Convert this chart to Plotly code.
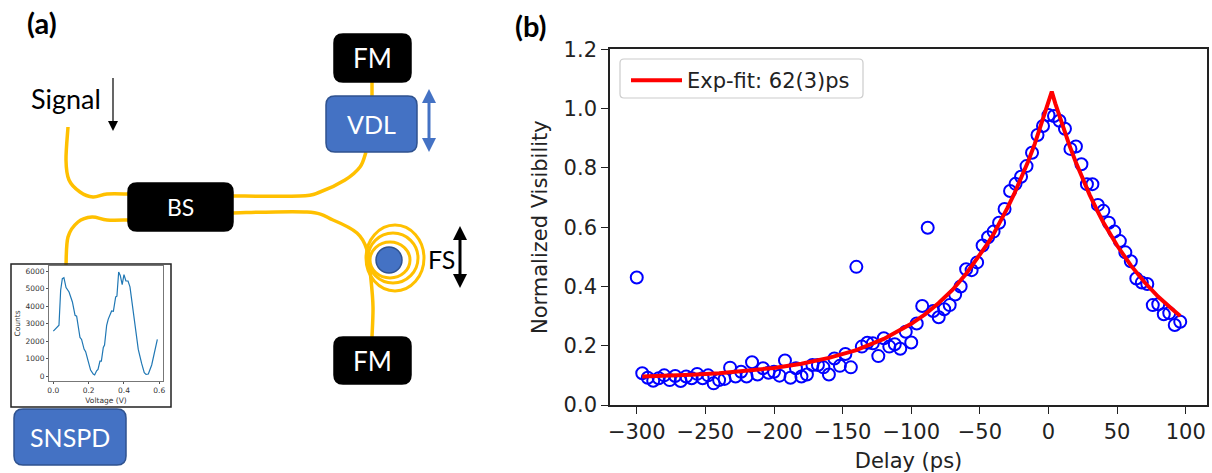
import plotly.graph_objects as go

W, H = 1212, 473

# ---------- panel (b) data ----------
delay_ps = [-300, -296, -292, -288, -284, -280, -276, -272, -268, -264, -260, -256, -252, -248, -244, -240, -236,
            -232, -228, -224, -220, -216, -212, -208, -204, -200, -196, -192, -188, -184, -180, -176, -172, -168,
            -164, -160, -156, -152, -148, -144, -140, -136, -132, -128, -124, -120, -116, -112, -108, -104, -100,
            -96, -92, -88, -84, -80, -76, -72, -68, -64, -60, -56, -52, -48, -44, -40, -36, -32, -28, -24, -20,
            -16, -12, -8, -4, 0, 4, 8, 12, 16, 20, 24, 28, 32, 36, 40, 44, 48, 52, 56, 60, 64, 68, 72, 76, 80,
            84, 88, 92, 96]
visibility = [.43, .107, .092, .082, .09, .10, .084, .098, .081, .096, .09, .105, .09, .10, .073, .084, .088,
              .126, .096, .112, .096, .144, .103, .124, .109, .112, .099, .15, .092, .124, .096, .103, .135, .135,
              .127, .103, .157, .132, .172, .127, .466, .197, .21, .208, .165, .225, .197, .205, .19, .247, .211,
              .275, .334, .598, .317, .296, .323, .337, .373, .40, .458, .455, .481, .538, .566, .585, .615, .661,
              .722, .746, .77, .806, .851, .911, .941, .978, .975, .959, .932, .864, .872, .812, .745, .745, .675,
              .655, .615, .585, .553, .515, .485, .427, .413, .408, .337, .34, .306, .31, .27, .281]
fit_x = [-296, -280, -260, -240, -220, -200, -180, -160, -140, -120, -100, -90, -80, -70, -60, -50, -45, -40, -35,
         -30, -25, -20, -15, -10, -5, 2.4, 5, 10, 15, 20, 25, 30, 35, 40, 50, 60, 70, 80, 90, 96]
fit_y = [.096, .098, .102, .107, .115, .125, .139, .159, .185, .223, .274, .306, .344, .388, .443, .504, .54, .577,
         .618, .664, .712, .763, .82, .881, .948, 1.057, 1.017, .945, .879, .818, .761, .709, .661, .616, .538, .471,
         .414, .365, .324, .30]
fit_label = "Exp-fit: 62(3)ps"
x_ticks = [-300, -250, -200, -150, -100, -50, 0, 50, 100]
y_ticks = [0.0, 0.2, 0.4, 0.6, 0.8, 1.0, 1.2]

# ---------- inset data ----------
inset_v = [0, .009, .032, .0415, .051, .06, .072, .089, .108, .123, .132, .151, .16, .174, .183, .198, .211, .226,
           .234, .245, .253, .264, .272, .283, .29, .302, .311, .33, .34, .353, .36, .37, .379, .39, .40, .411, .423,
           .434, .453, .472, .481, .5, .515, .525, .538, .557, .575, .589]
inset_counts = [2560, 2650, 2900, 4900, 5560, 5620, 5050, 4800, 4230, 3470, 3420, 2200, 2090, 1540, 1390, 820, 340,
                110, 60, 300, 380, 850, 850, 1630, 1770, 2900, 3250, 3720, 3700, 4520, 4560, 5940, 5750, 5220, 5790,
                5430, 5430, 5090, 3760, 2430, 1520, 720, 190, 95, 110, 630, 1390, 2090]

# ---------- schematic geometry (page pixels) ----------
FIBRE, BLUE, BLUE_EDGE = "#FFC000", "#4472C4", "#2F528F"
fibres = [
    [(68, 127), (66, 160), (69, 180), (80, 192), (93, 197), (107, 194), (128, 194)],
    [(128, 220), (107, 220), (92, 217), (78, 222), (68, 237), (66, 265)],
    [(230, 196), (300, 196), (320, 192), (345, 180), (360, 167), (366, 152)],
    [(230, 213), (307, 212), (333, 220), (357, 233), (367, 250), (371, 280), (373, 307), (372, 337)],
    [(372, 82), (372, 96)],
]
rings = [(395, 258, 29, 33), (393, 258, 25, 25), (390, 260, 20, 18)]
boxes = [
    (128, 183, 233, 231, "black", "black", "BS", 23),
    (334, 34, 411, 82, "black", "black", "FM", 26),
    (334, 337, 411, 384, "black", "black", "FM", 26),
    (326, 96, 417, 152, BLUE, BLUE_EDGE, "VDL", 25),
    (14, 409, 126, 465, BLUE, BLUE_EDGE, "SNSPD", 25),
]


def smooth(points):
    d = f"M{points[0][0]},{points[0][1]}"
    n = len(points)
    for i in range(n - 1):
        p0, p1 = points[max(i - 1, 0)], points[i]
        p2, p3 = points[i + 1], points[min(i + 2, n - 1)]
        c1 = (p1[0] + (p2[0] - p0[0]) / 6, p1[1] + (p2[1] - p0[1]) / 6)
        c2 = (p2[0] - (p3[0] - p1[0]) / 6, p2[1] - (p3[1] - p1[1]) / 6)
        d += f" C{c1[0]},{c1[1]} {c2[0]},{c2[1]} {p2[0]},{p2[1]}"
    return d


def rrect(x0, y0, x1, y1, r):
    return (f"M{x0+r},{y0} L{x1-r},{y0} Q{x1},{y0} {x1},{y0+r} L{x1},{y1-r} Q{x1},{y1} {x1-r},{y1} "
            f"L{x0+r},{y1} Q{x0},{y1} {x0},{y1-r} L{x0},{y0+r} Q{x0},{y0} {x0+r},{y0} Z")


PX = dict(xref="x3", yref="y3")
shapes = []
for f in fibres:
    shapes.append(dict(type="path", path=smooth(f), line=dict(color=FIBRE, width=3.5), **PX))
for cx, cy, rx, ry in rings:
    shapes.append(dict(type="circle", x0=cx - rx, x1=cx + rx, y0=cy - ry, y1=cy + ry,
                       line=dict(color=FIBRE, width=3), **PX))
shapes.append(dict(type="circle", x0=376, x1=402, y0=247, y1=273, fillcolor=BLUE,
                   line=dict(color=BLUE_EDGE, width=1.5), **PX))
annotations = []
for x0, y0, x1, y1, fill, edge, label, size in boxes:
    shapes.append(dict(type="path", path=rrect(x0, y0, x1, y1, 9), fillcolor=fill,
                       line=dict(color=edge, width=1.5), **PX))
    annotations.append(dict(x=(x0 + x1) / 2, y=(y0 + y1) / 2, text=label, showarrow=False, **PX,
                            font=dict(family="Lato", size=size, color="white")))


def double_arrow(x, y0, y1, color):
    return [
        dict(type="line", x0=x, x1=x, y0=y0 + 8, y1=y1 - 8, line=dict(color=color, width=3), **PX),
        dict(type="path", path=f"M{x},{y0} L{x+7},{y0+14} L{x-7},{y0+14} Z", fillcolor=color,
             line=dict(width=0), **PX),
        dict(type="path", path=f"M{x},{y1} L{x+7},{y1-14} L{x-7},{y1-14} Z", fillcolor=color,
             line=dict(width=0), **PX),
    ]


shapes += double_arrow(429, 89, 152, BLUE)
shapes += double_arrow(460, 226, 288, "black")
shapes += [
    dict(type="line", x0=113, x1=113, y0=78, y1=124, line=dict(color="black", width=1.2), **PX),
    dict(type="path", path="M113,131 L108,121 L118,121 Z", fillcolor="black", line=dict(width=0), **PX),
    dict(type="rect", x0=11, x1=171, y0=264, y1=407, line=dict(color="#222", width=1.5), **PX),
    dict(type="path", path=rrect(620, 59, 863, 98, 4), fillcolor="rgba(255,255,255,0.8)",
         line=dict(color="#cccccc", width=1.2), **PX),
]
annotations += [
    dict(x=42, y=22, text="<b>(a)</b>", showarrow=False, **PX, font=dict(family="Lato", size=29, color="black")),
    dict(x=531, y=25, text="<b>(b)</b>", showarrow=False, **PX, font=dict(family="Lato", size=29, color="black")),
    dict(x=66, y=98, text="Signal", showarrow=False, **PX, font=dict(family="Lato", size=27, color="black")),
    dict(x=441, y=259, text="FS", showarrow=False, **PX, font=dict(family="Lato", size=25, color="black")),
]

fig = go.Figure()
fig.add_trace(go.Scatter(x=delay_ps, y=visibility, mode="markers", showlegend=False, xaxis="x", yaxis="y",
                         marker=dict(symbol="circle-open", size=12, color="blue", line=dict(width=2, color="blue"))))
fig.add_trace(go.Scatter(x=fit_x, y=fit_y, mode="lines", name=fit_label, xaxis="x", yaxis="y",
                         line=dict(color="red", width=4)))
fig.add_trace(go.Scatter(x=inset_v, y=inset_counts, mode="lines", showlegend=False, xaxis="x2", yaxis="y2",
                         line=dict(color="#1f77b4", width=1.2)))

MAIN_FONT = "DejaVu Sans"
fig.update_layout(
    width=W, height=H, autosize=False, margin=dict(l=0, r=0, t=0, b=0, autoexpand=False),
    paper_bgcolor="white", plot_bgcolor="rgba(0,0,0,0)",
    font=dict(family=MAIN_FONT, color="#222"),
    xaxis=dict(domain=[610 / W, 1207 / W], range=[-319.5, 115.5], tickvals=x_ticks, anchor="y", automargin=False,
               ticks="outside", ticklen=7, tickwidth=1.4, tickcolor="#222", showline=True, linecolor="#222",
               linewidth=1.6, mirror=True, showgrid=False, zeroline=False, tickfont=dict(size=21),
               title=dict(text="Delay (ps)", font=dict(size=21), standoff=10)),
    yaxis=dict(domain=[1 - 405 / H, 1 - 49.3 / H], range=[0, 1.2], tickvals=y_ticks, tickformat=".1f", anchor="x",
               automargin=False, ticks="outside", ticklen=7, tickwidth=1.4, tickcolor="#222", showline=True,
               linecolor="#222", linewidth=1.6, mirror=True, showgrid=False, zeroline=False, tickfont=dict(size=21),
               title=dict(text="Normalized Visibility", font=dict(size=21), standoff=10)),
    xaxis2=dict(domain=[49 / W, 163 / W], range=[-0.0245, 0.621], tickvals=[0, .2, .4, .6], tickformat=".1f",
                anchor="y2", automargin=False, ticks="outside", ticklen=2, tickwidth=0.7, tickcolor="#555",
                showline=True, linecolor="#777", linewidth=1, mirror=True, showgrid=False, zeroline=False,
                tickfont=dict(size=7.5, color="#333"),
                title=dict(text="Voltage (V)", font=dict(size=7.5, color="#333"), standoff=3)),
    yaxis2=dict(domain=[1 - 381 / H, 1 - 266 / H], range=[-286, 6286], tickvals=[0, 1000, 2000, 3000, 4000, 5000, 6000],
                tickformat="d", anchor="x2", automargin=False, ticks="outside", ticklen=2, tickwidth=0.7,
                tickcolor="#555", showline=True, linecolor="#777", linewidth=1, mirror=True, showgrid=False,
                zeroline=False, tickfont=dict(size=7.5, color="#333"),
                title=dict(text="Counts", font=dict(size=7.5, color="#333"), standoff=3)),
    xaxis3=dict(domain=[0, 1], range=[0, W], visible=False, anchor="y3", automargin=False),
    yaxis3=dict(domain=[0, 1], range=[H, 0], visible=False, anchor="x3", automargin=False),
    legend=dict(x=626 / W, y=1 - 60 / H, xanchor="left", yanchor="top", bgcolor="rgba(0,0,0,0)",
                borderwidth=0, font=dict(size=21, color="#222"), itemwidth=51),
    shapes=shapes, annotations=annotations,
)

fig.write_html("out.html", config=dict(displayModeBar=False), post_script="document.body.style.margin='0';")
